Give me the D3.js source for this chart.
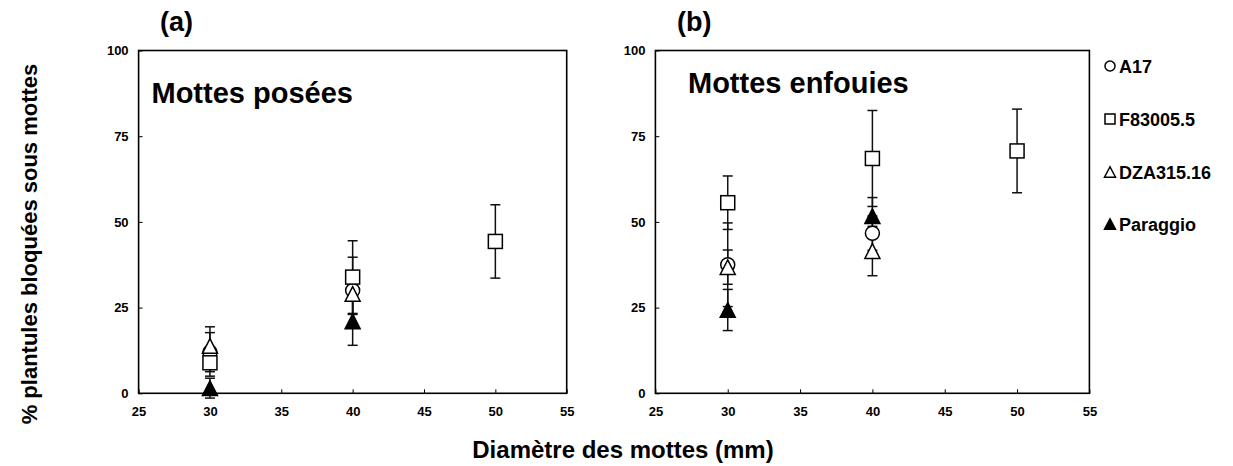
<!DOCTYPE html>
<html>
<head>
<meta charset="utf-8">
<script src="https://cdn.jsdelivr.net/npm/d3@7"></script>
<style>
  body { margin: 0; background: #fff; }
  svg { display: block; }
  text { font-family: "Liberation Sans", Arial, sans-serif; font-weight: bold; fill: #000; }
</style>
</head>
<body>
<svg id="chart" width="1233" height="466"></svg>
<script>
// ---------- data ----------
const xTicks = [25, 30, 35, 40, 45, 50, 55];
const yTicks = [0, 25, 50, 75, 100];
const seriesNames = ["A17", "F83005.5", "DZA315.16", "Paraggio"];
const seriesShapes = ["circle", "square", "triangle", "triangleFilled"];

// Panel (a) : Mottes posées   [diameter, mean, error]
const poseesA17      = [[30, 12.0, 5.7], [40, 30.0, 9.7]];
const poseesF83      = [[30, 8.9, 3.9], [40, 33.9, 10.6], [50, 44.3, 10.7]];
const poseesDZA      = [[30, 13.8, 5.6], [40, 29.0, 6.0]];
const poseesParaggio = [[30, 1.5, 2.9], [40, 21.0, 7.0]];

// Panel (b) : Mottes enfouies
const enfouiesA17      = [[30, 37.5, 12.2], [40, 46.7, 5.0]];
const enfouiesF83      = [[30, 55.6, 7.8], [40, 68.5, 14.0], [50, 70.7, 12.2]];
const enfouiesDZA      = [[30, 36.8, 5.0], [40, 41.5, 7.2]];
const enfouiesParaggio = [[30, 24.3, 6.0], [40, 51.7, 5.4]];

const panelLabels = ["(a)", "(b)"];
const panelTitles = ["Mottes posées", "Mottes enfouies"];
const yAxisTitle = "% plantules bloquées sous mottes";
const xAxisTitle = "Diamètre des mottes (mm)";

// ---------- layout ----------
const svg = d3.select("#chart");
const plotTop = 50.5, plotBottom = 393.3;
const panels = [
  { left: 138.6, right: 566.7, data: [poseesA17, poseesF83, poseesDZA, poseesParaggio], titleX: 151.5, titleY: 102.5, labX: 160, labY: 31 },
  { left: 655.4, right: 1089.4, data: [enfouiesA17, enfouiesF83, enfouiesDZA, enfouiesParaggio], titleX: 688, titleY: 93, labX: 677, labY: 31 }
];

function drawMarker(g, shape, cx, cy, size) {
  const s = size;
  if (shape === "circle") {
    g.append("circle").attr("cx", cx).attr("cy", cy).attr("r", s / 2)
      .attr("fill", "#fff").attr("stroke", "#000").attr("stroke-width", 1.5);
  } else if (shape === "square") {
    g.append("rect").attr("x", cx - s / 2).attr("y", cy - s / 2).attr("width", s).attr("height", s)
      .attr("fill", "#fff").attr("stroke", "#000").attr("stroke-width", 1.5);
  } else {
    const h = s * 1.05;
    const pts = [[cx, cy - h / 2], [cx + s / 2 + 0.5, cy + h / 2], [cx - s / 2 - 0.5, cy + h / 2]];
    g.append("polygon").attr("points", pts.map(p => p.join(",")).join(" "))
      .attr("fill", shape === "triangleFilled" ? "#000" : "#fff")
      .attr("stroke", "#000").attr("stroke-width", 1.5).attr("stroke-linejoin", "miter");
  }
}

panels.forEach((p, pi) => {
  const x = d3.scaleLinear().domain([25, 55]).range([p.left, p.right]);
  const y = d3.scaleLinear().domain([0, 100]).range([plotBottom, plotTop]);
  const g = svg.append("g");

  const xa = g.append("g").attr("transform", `translate(0,${plotBottom})`)
    .call(d3.axisBottom(x).tickValues(xTicks).tickSizeInner(-4).tickSizeOuter(0).tickPadding(13));
  xa.select(".domain").remove();
  xa.selectAll("line").attr("stroke", "#000").attr("stroke-width", 1);
  xa.selectAll("text").attr("font-size", 13).attr("font-family", "Liberation Sans, Arial, sans-serif").attr("font-weight", "bold");

  const ya = g.append("g").attr("transform", `translate(${p.left},0)`)
    .call(d3.axisLeft(y).tickValues(yTicks).tickSizeInner(-4).tickSizeOuter(0).tickPadding(10));
  ya.select(".domain").remove();
  ya.selectAll("line").attr("stroke", "#000").attr("stroke-width", 1);
  ya.selectAll("text").attr("font-size", 13).attr("font-family", "Liberation Sans, Arial, sans-serif").attr("font-weight", "bold");

  g.append("rect").attr("x", p.left).attr("y", plotTop)
    .attr("width", p.right - p.left).attr("height", plotBottom - plotTop)
    .attr("fill", "none").attr("stroke", "#000").attr("stroke-width", 1.6);

  const order = [0, 1, 2, 3];
  order.forEach(si => {
    p.data[si].forEach(d => {
      const cx = x(d[0]);
      const yHi = y(d[1] + d[2]), yLo = y(d[1] - d[2]);
      g.append("line").attr("x1", cx).attr("x2", cx).attr("y1", yHi).attr("y2", yLo)
        .attr("stroke", "#111").attr("stroke-width", 1.5);
      [yHi, yLo].forEach(yy => g.append("line").attr("x1", cx - 5).attr("x2", cx + 5)
        .attr("y1", yy).attr("y2", yy).attr("stroke", "#111").attr("stroke-width", 1.5));
    });
  });
  order.forEach(si => {
    p.data[si].forEach(d => drawMarker(g, seriesShapes[si], x(d[0]), y(d[1]), 14));
  });

  svg.append("text").attr("x", p.labX).attr("y", p.labY).attr("font-size", 27).text(panelLabels[pi]);
  svg.append("text").attr("x", p.titleX).attr("y", p.titleY).attr("font-size", 29).text(panelTitles[pi]);
});

// legend
const legBaselines = [73, 126, 179, 231];
seriesNames.forEach((name, i) => {
  const lg = svg.append("g");
  drawMarker(lg, seriesShapes[i], 1110, legBaselines[i] - 7, 10);
  lg.append("text").attr("x", 1119).attr("y", legBaselines[i]).attr("font-size", 18).text(name);
});

// axis titles
svg.append("text").attr("transform", "translate(37,244) rotate(-90)")
  .attr("text-anchor", "middle").attr("font-size", 22).text(yAxisTitle);
svg.append("text").attr("x", 623).attr("y", 458)
  .attr("text-anchor", "middle").attr("font-size", 24).text(xAxisTitle);
</script>
</body>
</html>
